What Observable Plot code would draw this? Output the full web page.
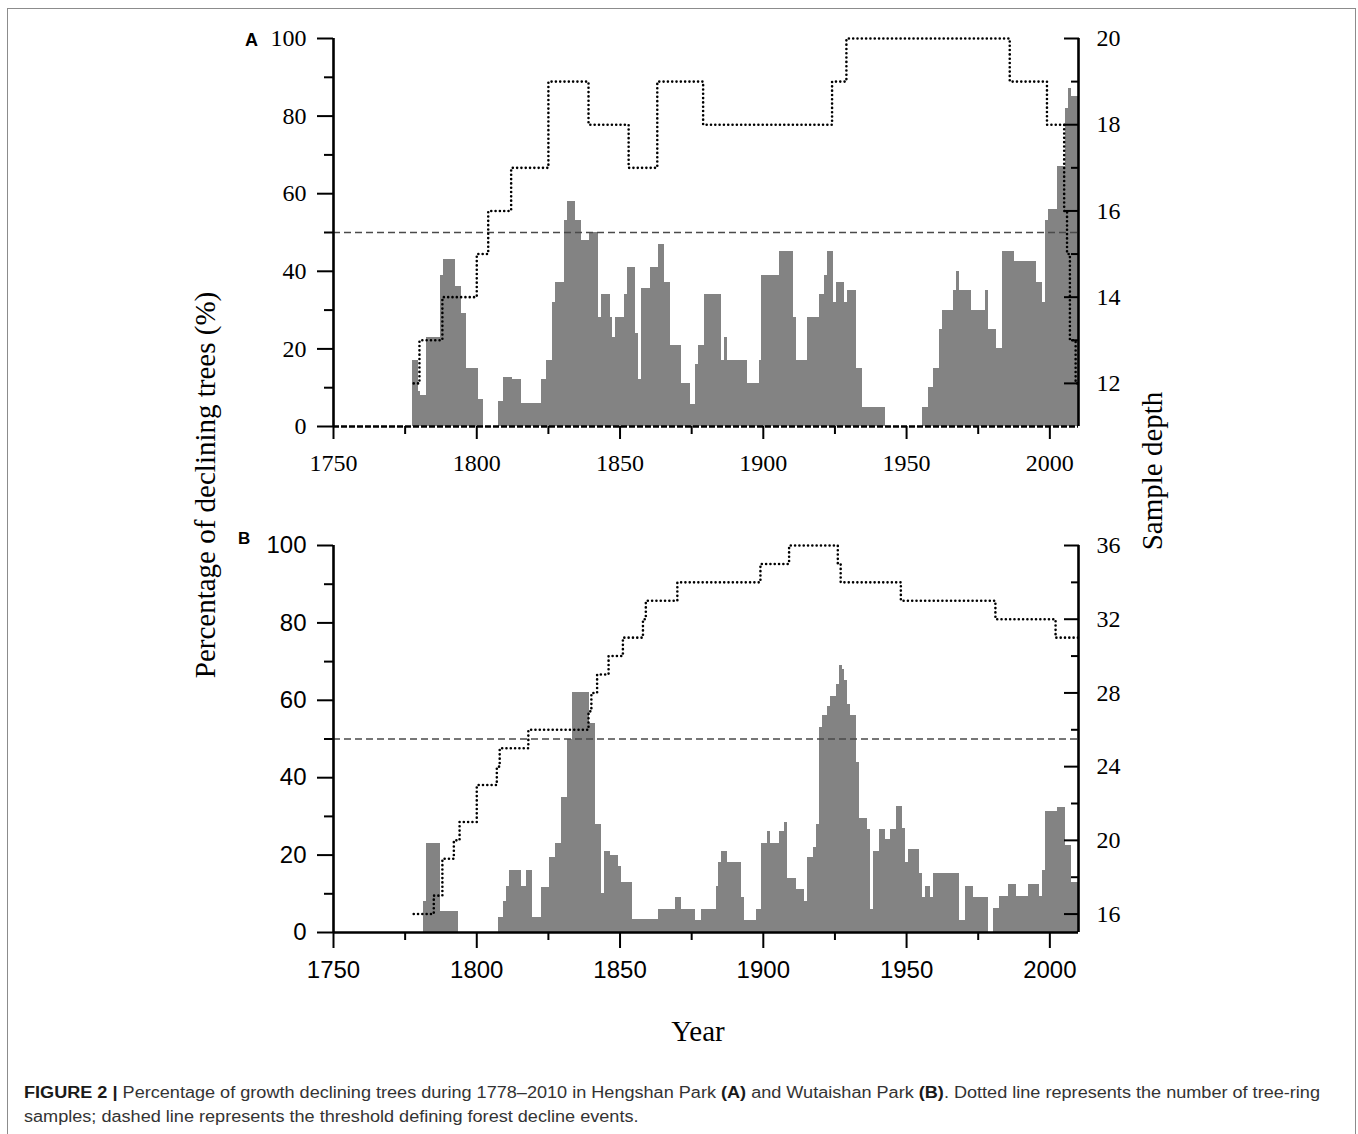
<!DOCTYPE html>
<html>
<head>
<meta charset="utf-8">
<script src="https://cdn.jsdelivr.net/npm/d3@7"></script>
<script src="https://cdn.jsdelivr.net/npm/@observablehq/plot@0.6"></script>
<style>
  html, body { margin: 0; padding: 0; background: #fff; }
  #page { position: relative; width: 1358px; height: 1134px; overflow: hidden; background: #fff; }
  #box { position: absolute; left: 7px; top: 8px; width: 1349px; height: 1200px; box-sizing: border-box;
         border: 1px solid #8c8c8c; border-bottom: none; }
  .abs { position: absolute; white-space: nowrap; }
  .serif { font-family: "Liberation Serif", "Times New Roman", serif; color: #000; }
  .panel-letter { font-family: "Liberation Sans", Arial, sans-serif; font-weight: bold; color: #000; line-height: 1; }
  .rot { transform: translate(-50%, -50%) rotate(-90deg); }
  .center { transform: translate(-50%, -50%); }
  .cap { font-family: "Liberation Sans", Arial, sans-serif; font-size: 16px; line-height: 20px; color: #333; transform-origin: 0 50%; }
  .cap b { color: #1a1a1a; }
</style>
</head>
<body>
<div id="page">
  <div id="box"></div>
  <div id="plotA" class="abs" style="left:0;top:0;"></div>
  <div id="plotB" class="abs" style="left:0;top:500px;"></div>

  <div class="abs panel-letter" style="left:245px;top:31px;font-size:18px;">A</div>
  <div class="abs panel-letter" style="left:238px;top:530px;font-size:17px;">B</div>

  <div class="abs serif rot" style="left:205px;top:485px;font-size:29px;">Percentage of declining trees (%)</div>
  <div class="abs serif rot" style="left:1152px;top:471px;font-size:29px;">Sample depth</div>
  <div class="abs serif center" style="left:698px;top:1031px;font-size:29px;">Year</div>

  <div id="cap1" class="abs cap" style="left:24px;top:1083px;"><b>FIGURE 2 |</b> Percentage of growth declining trees during 1778–2010 in Hengshan Park <b>(A)</b> and Wutaishan Park <b>(B)</b>. Dotted line represents the number of tree-ring</div>
  <div id="cap2" class="abs cap" style="left:24px;top:1107px;">samples; dashed line represents the threshold defining forest decline events.</div>
</div>

<script>
// ---------------- data ----------------
const startYear = 1778;
const xDomain = [1750, 2010];
const threshold = 50;

// Panel A (Hengshan Park): percentage of declining trees, one value per year from 1778 to 2010
const valuesA = [
  17, 17,                                            // 1778-1779
  9, 8, 8, 23, 23, 23, 23, 23, 39, 43,               // 1780s
  43, 43, 43, 36, 36, 29, 29, 15, 15, 15,            // 1790s
  15, 7, 7, 0, 0, 0, 0, 0, 6.5, 6.5,                 // 1800s
  12.7, 12.7, 12.7, 12, 12, 12, 6, 6, 6, 6,          // 1810s
  6, 6, 6, 12, 12, 17, 17, 32, 37, 37,               // 1820s
  37, 53, 58, 58, 58, 53, 53, 48, 48, 48,            // 1830s
  50, 50, 50, 28, 34, 34, 34, 28, 23, 28,            // 1840s
  28, 28, 34, 41, 41, 41, 24, 12, 35.5, 35.5,        // 1850s
  35.5, 41, 41, 41, 47, 47, 37, 37, 21, 21,          // 1860s
  21, 21, 11, 11, 11, 5.6, 5.6, 16, 21, 21,          // 1870s
  34, 34, 34, 34, 34, 34, 17, 23, 17, 17,            // 1880s
  17, 17, 17, 17, 17, 11, 11, 11, 11, 17,            // 1890s
  39, 39, 39, 39, 39, 39, 45, 45, 45, 45,            // 1900s
  45, 28, 17, 17, 17, 17, 28, 28, 28, 28,            // 1910s
  34, 34, 39, 45, 45, 32, 37, 37, 37, 32,            // 1920s
  35, 35, 35, 15, 15, 5, 5, 5, 5, 5,                 // 1930s
  5, 5, 5, 0, 0, 0, 0, 0, 0, 0,                      // 1940s
  0, 0, 0, 0, 0, 0, 5, 5, 10, 10,                    // 1950s
  15, 15, 25, 30, 30, 30, 30, 35, 40, 35,            // 1960s
  35, 35, 35, 30, 30, 30, 30, 30, 35, 25,            // 1970s
  25, 25, 20, 20, 45, 45, 45, 45, 42.5, 42.5,        // 1980s
  42.5, 42.5, 42.5, 42.5, 42.5, 42.5, 37, 37, 32, 53,// 1990s
  56, 56, 56, 67, 67, 67, 82, 87, 85, 85,            // 2000s
  85                                                 // 2010
];

// Panel B (Wutaishan Park)
const valuesB = [
  0, 0,                                              // 1778-1779
  0, 0, 8, 23, 23, 23, 23, 23, 5.3, 5.3,             // 1780s
  5.3, 5.3, 5.3, 5.3, 0, 0, 0, 0, 0, 0,              // 1790s
  0, 0, 0, 0, 0, 0, 0, 0, 4, 4,                      // 1800s
  8, 12, 16, 16, 16, 16, 12, 12, 16, 16,             // 1810s
  4, 4, 4, 11.5, 11.5, 11.5, 19.5, 19.5, 23, 23,     // 1820s
  35, 35, 50, 50, 62, 62, 62, 62, 62, 62,            // 1830s
  54, 54, 28, 28, 10, 21, 21, 20, 20, 20,            // 1840s
  17, 13, 13, 13, 13, 3.3, 3.3, 3.3, 3.3, 3.3,       // 1850s
  3.3, 3.3, 3.3, 3.3, 6, 6, 6, 6, 6, 6,              // 1860s
  9, 9, 6, 6, 6, 6, 6, 3, 3, 6,                      // 1870s
  6, 6, 6, 6, 12, 18, 21, 21, 18, 18,                // 1880s
  18, 18, 18, 9, 3, 3, 3, 3, 6, 6,                   // 1890s
  23, 23, 26, 23, 23, 23, 26, 26, 28.5, 14,          // 1900s
  14, 14, 11, 11, 11, 8, 19.5, 19.5, 22, 28,         // 1910s
  53, 56, 56, 58.5, 61, 61, 64, 69, 68, 65,          // 1920s
  59, 56, 56, 44, 29.5, 29.5, 29.5, 26.5, 6, 21,     // 1930s
  21, 26.5, 26.5, 24, 24, 26.5, 26.5, 32.6, 32.6, 27,// 1940s
  18, 21.4, 21.4, 21.4, 21.4, 15.2, 9, 12, 12, 9,    // 1950s
  15.2, 15.2, 15.2, 15.2, 15.2, 15.2, 15.2, 15.2, 15.2, 3, // 1960s
  3, 12, 12, 12, 9, 9, 9, 9, 9, 0,                   // 1970s
  0, 6.3, 6.3, 9.4, 9.4, 9.4, 12.4, 12.4, 12.4, 9.4, // 1980s
  9.4, 9.4, 9.4, 12.4, 12.4, 12.4, 12.4, 9.4, 16, 31.3, // 1990s
  31.3, 31.3, 31.3, 32.4, 32.4, 32.4, 22.5, 22.5, 13, 13, // 2000s
  13                                                 // 2010
];

// Sample depth (number of tree-ring samples), given at the years where it changes
const depthYearsA = [1778, 1780, 1788, 1800, 1804, 1812, 1825, 1839, 1853, 1863, 1879, 1924, 1929, 1986, 1999, 2005, 2006, 2007, 2009, 2010];
const depthA      = [  12,   13,   14,   15,   16,   17,   19,   18,   17,   19,   18,   19,   20,   19,   18,   16,   15,   13,   12,   12];

const depthYearsB = [1778, 1785, 1788, 1792, 1794, 1800, 1807, 1808, 1818, 1839, 1840, 1842, 1846, 1851, 1858, 1859, 1870, 1899, 1909, 1926, 1927, 1948, 1981, 2002, 2010];
const depthB      = [  16,   17,   19,   20,   21,   23,   24,   25,   26,   27,   28,   29,   30,   31,   32,   33,   34,   35,   36,   35,   34,   33,   32,   31,   31];

// Axis ticks
const yearTicks = [1750, 1800, 1850, 1900, 1950, 2000];
const yearMinorTicks = [1775, 1825, 1875, 1925, 1975];
const pctTicks = [0, 20, 40, 60, 80, 100];
const pctMinorTicks = [10, 30, 50, 70, 90];
const depthDomainA = [11, 20];
const depthTicksA = [12, 14, 16, 18, 20];
const depthMinorTicksA = [13, 15, 17, 19];
const depthDomainB = [15, 36];
const depthTicksB = [16, 20, 24, 28, 32, 36];
const depthMinorTicksB = [18, 22, 26, 30, 34];

// ---------------- drawing ----------------
const SERIF = "'Liberation Serif', 'Times New Roman', serif";
const SANS = "'Liberation Sans', Arial, sans-serif";
const BAR = "#838383";

function panel(o) {
  const rows = o.values.map((v, i) => ({year: startYear + i, pct: v}));
  const [dmin, dmax] = o.depthDomain;
  const toPct = d => (d - dmin) / (dmax - dmin) * 100;
  const fromPct = p => dmin + p / 100 * (dmax - dmin);
  const depthRows = o.depthYears.map((y, i) => ({year: y, depth: o.depth[i]}));
  const axisCommon = {stroke: "#000", strokeWidth: 2, label: null, fill: "#000"};
  return Plot.plot({
    width: 1358,
    height: o.height,
    marginLeft: 333,
    marginRight: 280,
    marginTop: o.marginTop,
    marginBottom: o.marginBottom,
    style: {background: "transparent", color: "#000", overflow: "visible", fontFamily: SERIF},
    x: {domain: xDomain, axis: null},
    y: {domain: [0, 100], axis: null},
    marks: [
      Plot.rect(rows, {x1: d => d.year - 0.5, x2: d => d.year + 0.5, y1: 0, y2: "pct",
                       fill: BAR, clip: true, shapeRendering: "crispEdges"}),
      Plot.ruleY([threshold], {stroke: "#4a4a4a", strokeWidth: 1.4, strokeDasharray: "7,4"}),
      Plot.line(depthRows, {x: "year", y: d => toPct(d.depth), curve: "step-after",
                            stroke: "#000", strokeWidth: 2.6, strokeLinecap: "round",
                            strokeDasharray: "0.01,4.3"}),
      // axis lines
      Plot.ruleX([xDomain[0]], {stroke: "#000", strokeWidth: 2.6}),
      Plot.ruleX([xDomain[1]], {stroke: "#000", strokeWidth: 2.6}),
      Plot.ruleY([0], {stroke: "#000", strokeWidth: 2.6, strokeDasharray: o.baseDash}),
      // left axis
      Plot.axisY(pctTicks, {...axisCommon, anchor: "left", tickSize: 16, tickPadding: 11,
                            fontSize: 24, fontFamily: o.leftFont, tickFormat: d => String(d)}),
      Plot.axisY(pctMinorTicks, {...axisCommon, anchor: "left", tickSize: 9, tickFormat: () => ""}),
      // bottom axis
      Plot.axisX(yearTicks, {...axisCommon, anchor: "bottom", tickSize: o.xTick, tickPadding: o.xPad,
                             fontSize: 24, fontFamily: o.bottomFont, tickFormat: d => String(d)}),
      Plot.axisX(yearMinorTicks, {...axisCommon, anchor: "bottom", tickSize: 8, tickFormat: () => ""}),
      // right axis (sample depth), ticks pointing inward
      Plot.axisY(o.depthTicks.map(toPct), {...axisCommon, anchor: "right", tickSize: 15, dx: -15, tickFormat: () => ""}),
      Plot.axisY(o.depthMinorTicks.map(toPct), {...axisCommon, anchor: "right", tickSize: 8, dx: -8, tickFormat: () => ""}),
      Plot.axisY(o.depthTicks.map(toPct), {...axisCommon, anchor: "right", tickSize: 0, tickPadding: 18,
                                           fontSize: 24, fontFamily: SERIF,
                                           tickFormat: p => String(Math.round(fromPct(p)))})
    ]
  });
}

document.getElementById("plotA").append(panel({
  values: valuesA, depthYears: depthYearsA, depth: depthA, depthDomain: depthDomainA,
  depthTicks: depthTicksA, depthMinorTicks: depthMinorTicksA,
  height: 500, marginTop: 38, marginBottom: 74,
  leftFont: SERIF, bottomFont: SERIF, baseDash: "6,2", xTick: 13, xPad: 14
}));

document.getElementById("plotB").append(panel({
  values: valuesB, depthYears: depthYearsB, depth: depthB, depthDomain: depthDomainB,
  depthTicks: depthTicksB, depthMinorTicks: depthMinorTicksB,
  height: 480, marginTop: 45, marginBottom: 48,
  leftFont: SANS, bottomFont: SANS, baseDash: null, xTick: 16, xPad: 12
}));

// fit caption line 1 to the reference width
(function fitCaption() {
  const c1 = document.getElementById("cap1"), c2 = document.getElementById("cap2");
  const w = c1.getBoundingClientRect().width;
  const k = 1296 / w;
  c1.style.transform = `scaleX(${k})`;
  c2.style.transform = `scaleX(${k})`;
})();
</script>
</body>
</html>
